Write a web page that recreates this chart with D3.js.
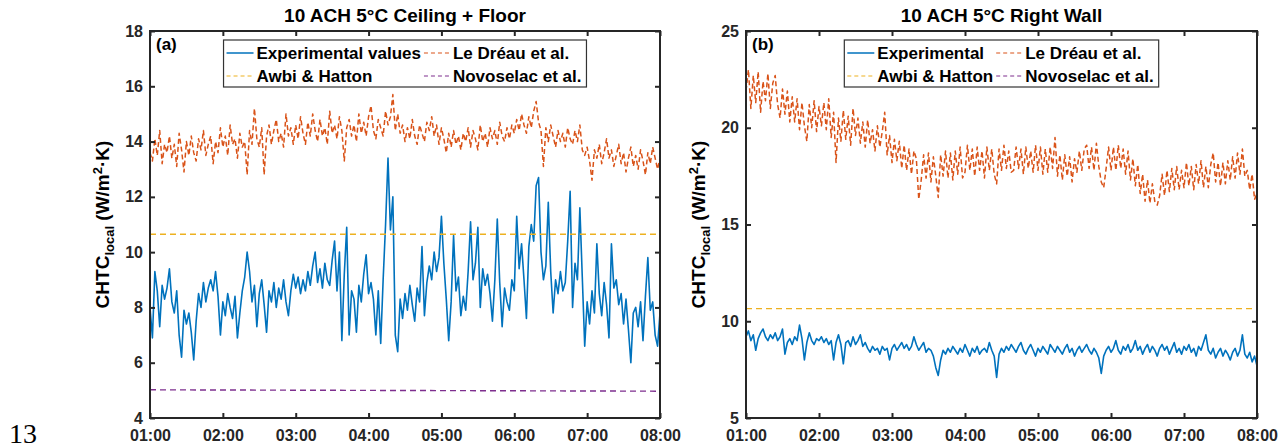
<!DOCTYPE html>
<html>
<head>
<meta charset="utf-8">
<script src="https://cdn.jsdelivr.net/npm/d3@7/dist/d3.min.js"></script>
<style>
    body { margin: 0; background: #fff; }
    svg text { font-family: "Liberation Sans", Arial, sans-serif; font-weight: bold; fill: #262626; }
</style>
</head>
<body>
<svg id="chart" width="1286" height="448"></svg>
<script>
// time axis: minutes after 01:00, one sample every 2 min
const stepMin = 2;
const hourTicks = [0, 60, 120, 180, 240, 300, 360, 420];
const hourLabels = ["01:00", "02:00", "03:00", "04:00", "05:00", "06:00", "07:00", "08:00"];

// (a) Ceiling + Floor
const yTicksA = [4, 6, 8, 10, 12, 14, 16, 18];
const expA = [
    8.0, 6.9, 9.3, 8.6, 7.3, 8.8, 8.3, 8.7, 9.4, 8.2,
    7.8, 8.6, 7.0, 6.2, 7.9, 7.4, 7.8, 7.1, 6.1, 7.5,
    8.5, 8.0, 8.9, 8.2, 8.7, 9.0, 8.6, 9.3, 8.4, 7.0,
    8.2, 7.7, 8.5, 8.0, 7.6, 8.4, 6.9, 7.8, 8.6, 9.1,
    10.0, 9.3, 8.2, 8.8, 7.3, 8.5, 9.0, 8.1, 7.1, 8.6,
    8.2, 8.9, 8.0, 8.7, 8.3, 9.0, 8.2, 7.7, 8.6, 9.2,
    8.7, 9.1, 8.5, 9.0, 8.6, 9.3, 8.8, 9.5, 10.0, 8.9,
    9.4, 8.7, 9.6, 9.0, 8.8, 9.7, 10.4, 8.6, 10.0, 6.8,
    9.2, 10.9, 7.0, 8.6, 8.3, 7.1, 8.8, 8.2, 9.2, 9.9,
    8.5, 8.9, 8.3, 7.0, 8.6, 6.7, 9.0, 11.0, 13.4, 10.8,
    12.0, 7.0, 6.4, 8.3, 7.6, 8.5, 7.9, 8.8, 8.1, 7.5,
    8.7, 8.2, 10.2, 7.7, 8.9, 9.5, 9.0, 10.0, 9.3, 9.8,
    11.3, 9.6, 8.3, 6.8, 8.2, 10.6, 8.6, 9.1, 7.7, 8.4,
    7.9, 9.3, 11.1, 9.0, 9.6, 10.9, 8.0, 9.4, 8.8, 9.2,
    8.5, 7.5, 9.0, 11.2, 8.9, 7.3, 8.7, 8.2, 7.9, 9.0,
    8.6, 11.3, 9.4, 10.3, 9.0, 7.6, 10.2, 11.0, 10.4, 12.4,
    12.7, 10.0, 9.0, 9.5, 11.8, 9.3, 7.8, 9.0, 8.5, 9.3,
    8.6, 8.9, 10.4, 12.2, 8.0, 9.6, 9.0, 11.6, 9.1, 6.6,
    8.2, 7.4, 8.6, 7.8, 10.3, 8.5, 7.7, 8.9, 8.1, 6.9,
    10.3, 8.7, 9.0, 8.1, 8.5, 7.4, 8.3, 7.2, 6.0, 7.8,
    8.0, 7.3, 8.2, 6.8, 8.4, 9.8, 7.9, 8.2, 7.0, 6.6,
    7.8
];
const dreauA = [
    13.6, 13.3, 14.1, 13.5, 14.4, 13.2, 13.9, 13.6, 14.2, 13.4,
    13.9, 13.1, 14.3, 13.7, 12.9, 14.0, 13.5, 14.2, 13.6, 13.3,
    14.1, 13.7, 14.4, 13.5, 13.9, 14.2, 13.2, 14.0, 13.6, 14.5,
    13.8, 14.2, 13.5, 14.6, 13.9, 14.1, 13.4, 14.3, 13.8, 14.0,
    12.8, 14.4, 13.9, 15.2, 14.1, 13.8, 14.5, 12.8, 14.2, 14.6,
    13.9, 14.4, 14.8, 14.0, 14.3, 13.8, 15.0, 14.2, 14.5, 13.9,
    14.6, 14.1, 14.9, 14.3, 13.9, 14.7, 14.2, 15.0, 14.4, 14.0,
    14.8, 14.2, 14.5, 13.9, 15.1, 14.3, 14.6, 14.1, 14.9, 14.4,
    13.3, 14.5, 14.8, 14.2, 14.6, 14.0, 15.0, 14.3, 14.7, 14.2,
    14.9, 15.3, 14.4, 14.1, 14.8, 14.5, 14.2, 15.1, 14.6, 14.9,
    15.7, 14.4, 15.0, 14.3, 14.6, 14.0, 14.5, 14.1, 14.8, 14.2,
    13.9, 14.6, 14.3, 14.0, 14.7, 14.4, 14.9, 14.2, 14.6, 13.9,
    14.5, 14.1, 13.6, 14.3, 13.8, 14.4, 13.9, 14.2, 13.7, 14.3,
    14.0, 14.5, 13.8, 14.4, 14.1, 13.7, 14.6, 14.0, 14.3, 13.8,
    14.5, 14.1, 14.4, 13.9, 14.7, 14.2, 14.0, 14.5, 14.1, 14.6,
    14.3, 14.8, 14.4, 15.0, 14.6, 14.3, 14.9, 14.5, 15.1, 15.45,
    14.7, 14.4, 13.1, 14.5, 14.0, 14.6, 14.2, 13.8, 14.4, 14.0,
    14.3, 13.8, 14.5, 14.1, 13.9, 14.4, 14.0, 14.6, 13.7, 13.5,
    13.8, 13.3, 12.6, 13.7, 13.4, 13.9, 13.2, 13.6, 14.1, 13.4,
    13.7, 13.1, 13.5, 13.9, 13.2, 13.6, 12.9, 13.4, 13.8, 13.1,
    13.5, 13.0, 13.7, 13.3, 12.8, 13.6, 13.2, 13.8, 13.4, 13.0,
    13.4
];
const awbiA = [10.65, 10.65];
const novoA = [5.02, 4.97];

// (b) Right Wall
const yTicksB = [5, 10, 15, 20, 25];
const expB = [
    9.2, 9.5, 9.0, 9.3, 8.5, 9.1, 9.4, 9.6, 9.2, 9.0,
    9.3, 9.1, 9.4, 9.0, 9.2, 9.6, 8.3, 8.9, 9.1, 8.8,
    9.2, 9.0, 9.8, 9.1, 8.0, 8.9, 9.4, 9.0, 8.8, 9.1,
    9.0, 9.2, 8.9, 9.1, 8.8, 9.0, 8.0, 8.9, 9.3, 8.8,
    7.8, 8.9, 9.0, 8.7, 9.2, 8.8, 9.0, 9.3, 8.7, 8.9,
    8.6, 8.4, 8.7, 8.5, 8.6, 8.3, 8.7, 8.5, 8.6, 8.0,
    8.6, 8.8, 8.5, 8.7, 8.9, 8.6, 8.8, 8.5, 8.7, 9.2,
    8.8, 8.5, 8.7, 8.9, 8.4, 8.6, 8.5, 8.2, 7.6, 7.2,
    8.0, 8.5, 8.3, 8.6, 8.4, 8.7, 8.5, 8.3, 8.6, 8.4,
    8.8, 8.5, 8.2, 8.6, 8.4, 8.7, 8.3, 8.5, 8.6, 8.4,
    8.9, 8.5, 8.2, 7.1, 8.3, 8.6, 8.4, 8.7, 8.5, 8.8,
    8.6, 8.4, 8.7, 8.9, 8.5, 8.3, 8.6, 8.8, 8.5, 8.2,
    8.6, 8.4, 8.7, 8.5, 8.3, 8.8, 8.6, 8.4, 8.7, 8.5,
    8.3, 8.6, 8.8, 8.4, 8.6, 8.2, 8.5, 8.7, 8.4, 8.6,
    8.8, 8.5, 8.3, 8.6, 8.4, 8.1, 7.3, 8.2, 8.5, 8.7,
    8.4, 8.6, 9.0, 8.5, 8.3, 8.7, 8.5, 8.8, 8.4, 8.6,
    9.0, 8.5, 8.7, 8.3, 8.6, 8.8, 8.4, 8.7, 8.5, 8.2,
    8.6, 8.8, 8.5, 8.7, 8.3, 8.6, 8.9, 8.4, 8.6, 8.3,
    8.7, 8.5, 8.8, 8.4, 8.6, 8.2, 8.7, 8.5, 8.9, 9.3,
    8.5, 8.3, 8.6, 8.1, 8.4, 8.6, 8.2, 8.5, 8.3, 8.0,
    8.4, 8.6, 8.2, 8.5, 9.3, 8.3, 8.1, 8.4, 7.9, 8.2,
    7.7
];
const dreauB = [
    21.9, 23.0, 21.0, 22.7, 21.3, 22.9, 20.8, 22.4, 21.4, 22.8,
    21.0, 22.3, 22.7, 21.2, 20.5, 22.0, 20.7, 21.9, 20.3, 21.6,
    20.3, 21.5, 19.9, 21.3, 20.1, 19.3, 21.2, 20.0, 21.4, 19.8,
    21.1, 20.1, 21.3, 19.9, 21.5, 19.5, 20.8, 18.2, 20.5, 19.3,
    20.9, 19.4, 20.6, 19.1, 21.0, 19.6, 20.5, 19.2, 20.3, 19.0,
    20.4, 19.2, 19.9, 18.8, 20.1, 19.0, 19.8, 20.8, 18.6, 19.6,
    18.2, 19.4, 18.3, 19.3, 17.9, 19.1, 17.8, 18.9, 17.6, 18.8,
    18.4, 16.3, 17.3, 18.6, 17.4, 18.7, 17.2, 18.5, 17.5, 16.4,
    18.6, 17.5, 18.8, 17.4, 18.7, 17.3, 18.8, 17.6, 19.0, 17.4,
    17.7, 19.1, 17.8, 18.9, 17.5, 19.0, 17.8, 18.8, 17.4, 19.0,
    17.8, 18.9, 17.6, 17.1, 18.9, 17.8, 19.1, 17.9, 18.8, 17.7,
    17.8, 19.0, 17.9, 18.9, 17.6, 19.0, 17.9, 18.8, 17.7, 19.1,
    17.8, 19.0, 17.6, 18.9, 17.7, 19.0, 17.9, 19.5, 17.5, 18.6,
    17.3, 18.6, 17.5, 18.5, 17.2, 18.4, 17.7, 18.8, 17.8, 18.9,
    19.1, 17.9, 19.0, 17.8, 19.2, 18.0, 17.2, 16.9, 17.9, 19.0,
    17.8, 19.0, 17.8, 19.1, 17.9, 18.9, 17.6, 18.8, 17.3, 18.4,
    17.0, 18.1, 16.6, 17.6, 16.2, 17.3, 16.1, 17.1, 16.2, 16.0,
    16.5, 17.6, 16.5, 17.8, 16.7, 17.9, 16.8, 18.0, 16.8, 17.8,
    16.9, 18.2, 17.0, 18.0, 16.8, 18.1, 17.1, 18.3, 16.9, 18.0,
    16.9, 18.1, 18.7, 17.2, 18.2, 17.0, 18.2, 17.1, 18.3, 17.3,
    18.5, 17.4, 18.7, 17.6, 18.9, 17.5, 17.8, 16.8, 17.6, 16.3,
    16.6
];
const awbiB = [10.65, 10.65];

const legendLabelsA = ["Experimental values", "Le Dréau et al.", "Awbi & Hatton", "Novoselac et al."];
const legendLabelsB = ["Experimental", "Le Dréau et al.", "Awbi & Hatton", "Novoselac et al."];

const colors = { exp: "#0072BD", dreau: "#D95319", awbi: "#EDB120", novo: "#7E2F8E" };
const styles = {
    exp:   { color: colors.exp,   width: 1.6, dash: null },
    dreau: { color: colors.dreau, width: 1.5, dash: "5,3" },
    awbi:  { color: colors.awbi,  width: 1.4, dash: "6,4" },
    novo:  { color: colors.novo,  width: 1.4, dash: "6,4" }
};

const svg = d3.select("#chart");

// "13" line number of the source page
svg.append("text")
    .attr("x", 9)
    .attr("y", 443)
    .style("font-family", "'Liberation Serif', 'Times New Roman', serif")
    .style("font-weight", "normal")
    .style("font-size", "28px")
    .style("fill", "#000")
    .text("13");

function toPoints(values) {
    return values.map((v, i) => ({ t: i * stepMin, v: v }));
}

function flatLine(values) {
    // a constant / two-point model line spanning the whole period
    return values.map((v, i) => ({ t: i * 420 / (values.length - 1), v: v }));
}

function drawPanel(cfg) {
    const { left, right, top, bottom } = cfg;
    const width = right - left;
    const height = bottom - top;

    const x = d3.scaleLinear().domain([0, 420]).range([0, width]);
    const y = d3.scaleLinear().domain(cfg.yDomain).range([height, 0]);

    const g = svg.append("g").attr("transform", `translate(${left},${top})`);

    g.append("clipPath").attr("id", "clip-" + cfg.id)
        .append("rect").attr("width", width).attr("height", height);

    const line = d3.line().x(d => x(d.t)).y(d => y(d.v));
    const plot = g.append("g").attr("clip-path", `url(#clip-${cfg.id})`);

    cfg.series.forEach(s => {
        const st = styles[s.key];
        plot.append("path")
            .datum(s.data)
            .attr("fill", "none")
            .attr("stroke", st.color)
            .attr("stroke-width", st.width)
            .attr("stroke-dasharray", st.dash)
            .attr("stroke-linejoin", "round")
            .attr("d", line);
    });

    // axes: ticks point inward, box drawn separately
    const fmtX = (d, i) => hourLabels[i];
    g.append("g").attr("class", "axis")
        .attr("transform", `translate(0,${height})`)
        .call(d3.axisBottom(x).tickValues(hourTicks).tickFormat(fmtX).tickSizeInner(-5).tickSizeOuter(0).tickPadding(12));
    g.append("g").attr("class", "axis")
        .call(d3.axisTop(x).tickValues(hourTicks).tickFormat("").tickSizeInner(-5).tickSizeOuter(0));
    g.append("g").attr("class", "axis")
        .call(d3.axisLeft(y).tickValues(cfg.yTicks).tickSizeInner(-5).tickSizeOuter(0).tickPadding(7));
    g.append("g").attr("class", "axis")
        .attr("transform", `translate(${width},0)`)
        .call(d3.axisRight(y).tickValues(cfg.yTicks).tickFormat("").tickSizeInner(-5).tickSizeOuter(0));

    g.selectAll(".axis .domain").remove();
    g.selectAll(".axis line").attr("stroke", "#262626").attr("stroke-width", 2);
    g.selectAll(".axis text")
        .style("font-size", "16px")
        .style("font-weight", "bold")
        .attr("fill", "#262626");

    g.append("rect")
        .attr("width", width)
        .attr("height", height)
        .attr("fill", "none")
        .attr("stroke", "#262626")
        .attr("stroke-width", 2);

    // title
    g.append("text")
        .attr("x", width / 2)
        .attr("y", -9)
        .attr("text-anchor", "middle")
        .style("font-size", "19px")
        .style("fill", "#000")
        .text(cfg.title);

    // panel tag
    g.append("text")
        .attr("x", 6)
        .attr("y", 19)
        .style("font-size", "17px")
        .style("fill", "#000")
        .text(cfg.tag);

    // y label with subscript and superscript
    const yl = g.append("text")
        .attr("transform", `translate(${cfg.yLabelX},${height / 2}) rotate(-90)`)
        .attr("text-anchor", "middle")
        .style("font-size", "19px")
        .style("fill", "#000");
    yl.append("tspan").text("CHTC");
    yl.append("tspan").attr("dy", 5).style("font-size", "13px").text("local");
    yl.append("tspan").attr("dy", -5).text(" (W/m");
    yl.append("tspan").attr("dy", -7).style("font-size", "13px").text("2");
    yl.append("tspan").attr("dy", 7).text("·K)");

    // legend: 2 x 2 grid
    const leg = g.append("g");
    const box = leg.append("rect")
        .attr("fill", "#fff")
        .attr("stroke", "#333")
        .attr("stroke-width", 1.2);
    const keys = ["exp", "dreau", "awbi", "novo"];
    const sample = 27;
    const texts = cfg.legend.map(lbl => leg.append("text").style("font-size", "17px").style("fill", "#000").text(lbl));
    const w = texts.map(t => t.node().getComputedTextLength());
    const col1W = Math.max(w[0], w[2]);
    const col2W = Math.max(w[1], w[3]);
    const col2X = 3 + sample + 3 + col1W + 3;
    const boxW = col2X + sample + 2 + col2W + 5;
    const rowH = 23;
    keys.forEach((k, i) => {
        const cx = i % 2 === 0 ? 3 : col2X;
        const cy = 13 + Math.floor(i / 2) * rowH;
        const st = styles[k];
        leg.append("line")
            .attr("x1", cx).attr("x2", cx + sample)
            .attr("y1", cy).attr("y2", cy)
            .attr("stroke", st.color)
            .attr("stroke-width", k === "exp" ? 1.5 : 1.2)
            .attr("stroke-dasharray", k === "exp" ? null : "4,3");
        texts[i].attr("x", cx + sample + (i % 2 === 0 ? 3 : 2)).attr("y", cy + 6);
    });
    box.attr("width", boxW).attr("height", 47);
    leg.attr("transform", `translate(${(width - boxW) / 2},9)`);
}

drawPanel({
    id: "a", left: 150, right: 660, top: 31, bottom: 418,
    yDomain: [4, 18], yTicks: yTicksA,
    title: "10 ACH 5°C Ceiling + Floor", tag: "(a)", yLabelX: -41,
    legend: legendLabelsA,
    series: [
        { key: "exp", data: toPoints(expA) },
        { key: "dreau", data: toPoints(dreauA) },
        { key: "awbi", data: flatLine(awbiA) },
        { key: "novo", data: flatLine(novoA) }
    ]
});

drawPanel({
    id: "b", left: 746, right: 1257, top: 31, bottom: 418,
    yDomain: [5, 25], yTicks: yTicksB,
    title: "10 ACH 5°C Right Wall", tag: "(b)", yLabelX: -41,
    legend: legendLabelsB,
    series: [
        { key: "exp", data: toPoints(expB) },
        { key: "dreau", data: toPoints(dreauB) },
        { key: "awbi", data: flatLine(awbiB) }
    ]
});
</script>
</body>
</html>
